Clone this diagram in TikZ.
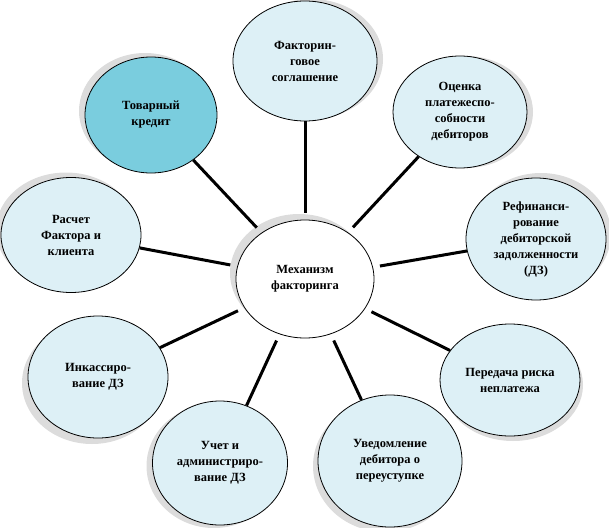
\documentclass[tikz,border=0pt]{standalone}
\usepackage{fontspec}
\setmainfont{Liberation Serif}
\usetikzlibrary{shapes.geometric,shadows}
\definecolor{lightfill}{RGB}{221,240,246}
\definecolor{darkfill}{RGB}{122,205,222}
\tikzset{
  bub/.style={ellipse, draw=black, line width=0.8pt, fill=lightfill, inner sep=0pt,
    align=center, font=\bfseries\fontsize{12.5}{16}\selectfont},
  conn/.style={line width=3pt, black, shorten <=7pt},
  sh/.style 2 args={drop shadow={shadow xshift=#1pt, shadow yshift=#2pt, fill=gray, opacity=0.28}},
}
\begin{document}
\begin{tikzpicture}[x=1pt,y=-1pt]
\useasboundingbox (0,0) rectangle (609,527);
\node[bub, fill=white, sh={-6}{6}, minimum width=138pt, minimum height=118pt] (c) at (305,279) {Механизм\\факторинга};
\node[bub, sh={6}{2}, minimum width=144pt, minimum height=120pt] (n1) at (305,61) {Факторин-\\говое\\соглашение};
\node[bub, sh={6}{0}, minimum width=134pt, minimum height=112pt] (n2) at (460,112) {Оценка\\платежеспо-\\собности\\дебиторов};
\node[bub, sh={5}{5}, minimum width=140pt, minimum height=122pt] (n3) at (536,239) {Рефинанси-\\рование\\дебиторской\\задолженности\\(ДЗ)};
\node[bub, sh={3}{-5}, minimum width=140pt, minimum height=112pt] (n4) at (510,380) {Передача риска\\неплатежа};
\node[bub, sh={-5}{-5}, minimum width=144pt, minimum height=132pt] (n5) at (390,461) {Уведомление\\дебитора о\\переуступке};
\node[bub, sh={-6}{-3}, minimum width=135pt, minimum height=124pt] (n6) at (220,463) {Учет и\\администриро-\\вание ДЗ};
\node[bub, sh={-6}{-6}, minimum width=140pt, minimum height=122pt] (n7) at (98,377) {Инкассиро-\\вание ДЗ};
\node[bub, sh={-5}{5}, minimum width=140pt, minimum height=115pt] (n8) at (71,235) {Расчет\\Фактора и\\клиента};
\node[bub, fill=darkfill, sh={-6}{4}, minimum width=132pt, minimum height=116pt] (n9) at (151,115) {Товарный\\кредит};
\foreach \n in {n1,n2,n3,n4,n5,n6,n7,n8,n9}{
  \draw[conn] (c) -- (\n);
}
\end{tikzpicture}
\end{document}
